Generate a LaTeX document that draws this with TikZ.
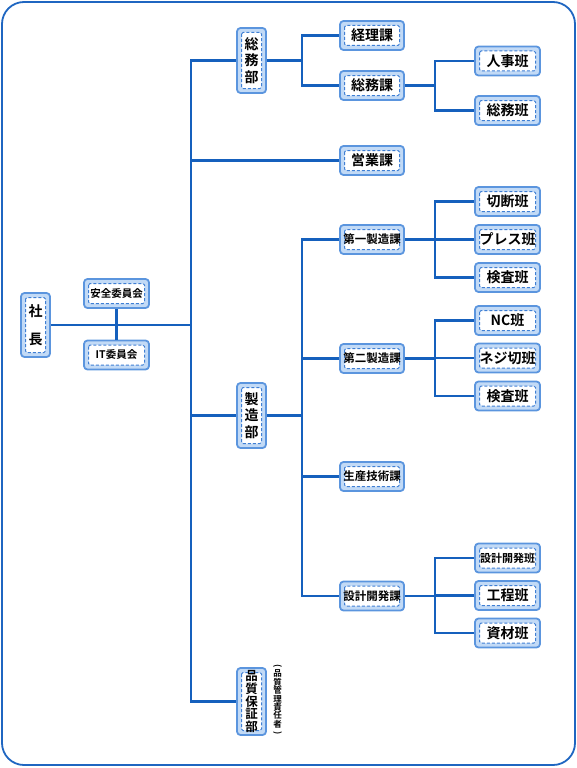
\documentclass[tikz,border=0pt]{standalone}
\usepackage{fontspec}
\setmainfont{Noto Sans CJK JP}[BoldFont=* Bold]
\usepackage{graphicx}
\definecolor{frameblue}{HTML}{1F66C1}
\definecolor{lineblue}{HTML}{1560BD}
\definecolor{boxedge}{HTML}{5B95DE}
\definecolor{boxfill}{HTML}{C2DAF6}
\definecolor{dashblue}{HTML}{3F7FD4}
\newcommand{\vparen}[1]{\smash{\rotatebox[origin=c]{-90}{#1}}}
\begin{document}
\begin{tikzpicture}[x=1pt,y=-1pt,
  orgbox/.style={draw=boxedge,fill=boxfill,line width=1.8pt,rounded corners=3.5pt,
    inner sep=0pt,
    path picture={
      \fill[white] ([shift={(4.5pt,-4.5pt)}]path picture bounding box.north west) rectangle ([shift={(-4.5pt,4.5pt)}]path picture bounding box.south east);
      \draw[dashblue,dash pattern=on 3pt off 2pt,line width=1pt,rounded corners=1.5pt] ([shift={(4.5pt,-4.5pt)}]path picture bounding box.north west) rectangle ([shift={(-4.5pt,4.5pt)}]path picture bounding box.south east);
    }},
  hbox/.style={orgbox,minimum width=64pt,minimum height=29pt},
  vbox/.style={orgbox,minimum width=29pt,minimum height=65pt,align=center},
  big/.style={font=\bfseries\fontsize{14}{16}\selectfont},
  mid/.style={font=\bfseries\fontsize{11.5}{13}\selectfont},
  sml/.style={font=\bfseries\fontsize{10.5}{12}\selectfont},
  conn/.style={draw=lineblue,line width=2.1pt},
]
\useasboundingbox (0,0) rectangle (577,768);
\draw[frameblue,line width=1.8pt,rounded corners=22pt] (2,2) rectangle (575,765);

% nodes
\node[vbox,minimum height=64pt,font=\bfseries\fontsize{14}{28}\selectfont] (shacho) at (35.5,325) {社\\長};
\node[hbox,minimum width=65pt,sml] (anzen) at (116.5,293.5) {安全委員会};
\node[hbox,minimum width=65pt,sml] (itc) at (116.5,355) {IT委員会};

\node[vbox,font=\bfseries\fontsize{14}{16.5}\selectfont] (somubu) at (251.5,60.5) {総\\務\\部};
\node[hbox,big] (keiri) at (372,35.5) {経理課};
\node[hbox,big] (somuka) at (372,85.5) {総務課};
\node[hbox,minimum width=65pt,big] (jinji) at (507.5,61) {人事班};
\node[hbox,minimum width=65pt,big] (somuhan) at (507.5,110.5) {総務班};

\node[hbox,big] (eigyo) at (372,160.5) {営業課};

\node[vbox,font=\bfseries\fontsize{14}{16.5}\selectfont] (seizobu) at (251.5,415.5) {製\\造\\部};
\node[hbox,mid] (dai1) at (372,239.5) {第一製造課};
\node[hbox,minimum width=65pt,big] (setsudan) at (507.5,201.5) {切断班};
\node[hbox,minimum width=65pt,big] (press) at (507.5,239.5) {プレス班};
\node[hbox,minimum width=65pt,big] (kensa1) at (507.5,277.5) {検査班};
\node[hbox,mid] (dai2) at (372,358.5) {第二製造課};
\node[hbox,minimum width=65pt,big] (nc) at (507.5,320.5) {NC班};
\node[hbox,minimum width=65pt,big] (neji) at (507.5,358) {ネジ切班};
\node[hbox,minimum width=65pt,big] (kensa2) at (507.5,396) {検査班};
\node[hbox,mid] (seisan) at (372,476.5) {生産技術課};
\node[hbox,mid] (sekkei) at (372,596) {設計開発課};
\node[hbox,minimum width=65pt,font=\bfseries\fontsize{11}{12}\selectfont] (sekkeihan) at (507.5,558) {設計開発班};
\node[hbox,minimum width=65pt,big] (kotei) at (507.5,595.5) {工程班};
\node[hbox,minimum width=65pt,big] (shizai) at (507.5,633) {資材班};

\node[vbox,minimum height=67pt,font=\bfseries\fontsize{12.5}{12.6}\selectfont] (hinshitsu) at (251.5,701.5) {品\\質\\保\\証\\部};
\node[align=center,inner sep=0pt,font=\bfseries\fontsize{8.5}{8.4}\selectfont] (note) at (277.5,702)
  {\vparen{(}\\品\\質\\管\\理\\責\\任\\者\\\vparen{)}};

% bus coordinates
\coordinate (T) at (191,0);
\coordinate (B1) at (302,0);
\coordinate (B2) at (435,0);

% president and committees
\draw[conn] (anzen.south) -- (itc.north);
\draw[conn] (shacho.east) -- (shacho.east -| T);
\draw[conn] (somubu.west) -- (somubu.west -| T) -- (hinshitsu.west -| T) -- (hinshitsu.west);
\draw[conn] (eigyo.west) -- (eigyo.west -| T);
\draw[conn] (seizobu.west) -- (seizobu.west -| T);

% 総務部
\draw[conn] (somubu.east) -- (somubu.east -| B1);
\draw[conn] (keiri.west) -- (keiri.west -| B1) -- (somuka.west -| B1) -- (somuka.west);
\draw[conn] (somuka.east) -- (somuka.east -| B2);
\draw[conn] (jinji.west) -- (jinji.west -| B2) -- (somuhan.west -| B2) -- (somuhan.west);

% 製造部
\draw[conn] (seizobu.east) -- (seizobu.east -| B1);
\draw[conn] (dai1.west) -- (dai1.west -| B1) -- (sekkei.west -| B1) -- (sekkei.west);
\draw[conn] (dai2.west) -- (dai2.west -| B1);
\draw[conn] (seisan.west) -- (seisan.west -| B1);

\draw[conn] (dai1.east) -- (dai1.east -| B2);
\draw[conn] (setsudan.west) -- (setsudan.west -| B2) -- (kensa1.west -| B2) -- (kensa1.west);
\draw[conn] (press.west) -- (press.west -| B2);

\draw[conn] (dai2.east) -- (dai2.east -| B2);
\draw[conn] (nc.west) -- (nc.west -| B2) -- (kensa2.west -| B2) -- (kensa2.west);
\draw[conn] (neji.west) -- (neji.west -| B2);

\draw[conn] (sekkei.east) -- (sekkei.east -| B2);
\draw[conn] (sekkeihan.west) -- (sekkeihan.west -| B2) -- (shizai.west -| B2) -- (shizai.west);
\draw[conn] (kotei.west) -- (kotei.west -| B2);
\end{tikzpicture}
\end{document}
